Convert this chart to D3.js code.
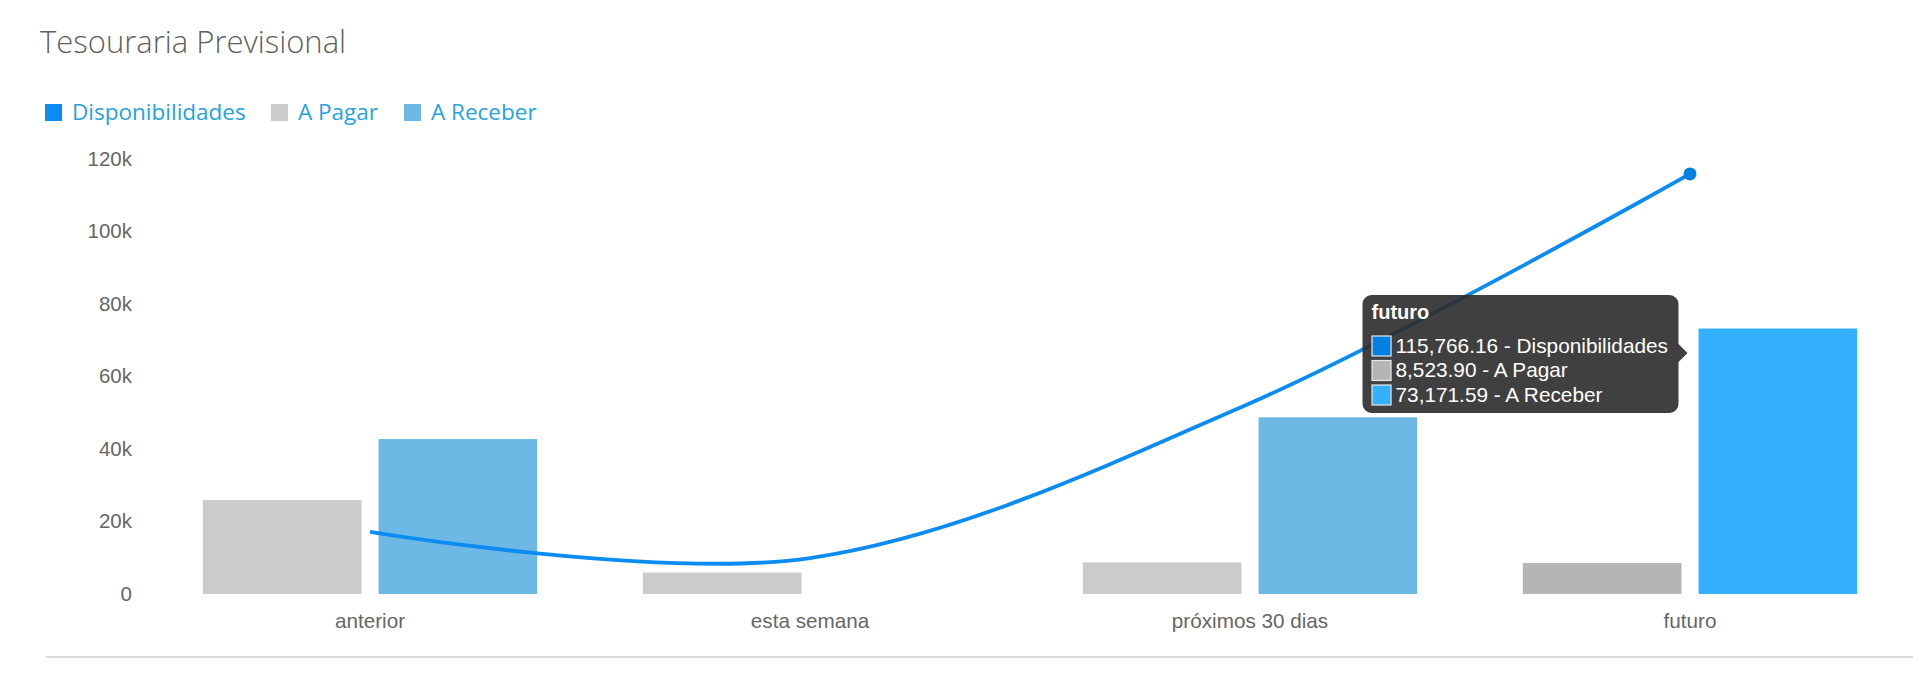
<!DOCTYPE html>
<html>
<head>
<meta charset="utf-8">
<script src="https://cdn.jsdelivr.net/npm/d3@7/dist/d3.min.js"></script>
<style>
  html, body { margin: 0; padding: 0; background: #fff; }
  svg { display: block; }
</style>
</head>
<body>
<svg id="chart" width="1913" height="700"></svg>
<script>
// ---- data ----
const categories = ["anterior", "esta semana", "próximos 30 dias", "futuro"];
const seriesNames = ["Disponibilidades", "A Pagar", "A Receber"];
const disponibilidades = [17100, 9900, 52600, 115766.16];
const aPagar = [25900, 5900, 8700, 8523.90];
const aReceber = [42700, 0, 48700, 73171.59];
const yTicks = [0, 20000, 40000, 60000, 80000, 100000, 120000];
const hoverIndex = 3;

// ---- styles ----
const colors = {
  "Disponibilidades": "#0a8cf2",
  "A Pagar": "#cbcbcb",
  "A Receber": "#6eb8e6"
};
const hoverColors = {
  "Disponibilidades": "#0080e0",
  "A Pagar": "#b5b5b5",
  "A Receber": "#33b1ff"
};
const axisFont = "Arial, 'Liberation Sans', sans-serif";

const svg = d3.select("#chart");
const W = 1913, H = 700;
const plotBottom = 594;

// scales
const x0 = d3.scaleBand().domain(categories).range([150, 1910]).paddingInner(0.24).paddingOuter(0.12);
const x1 = d3.scaleBand().domain(["A Pagar", "A Receber"]).range([0, x0.bandwidth()]).paddingInner(0.097);
const y = d3.scaleLinear().domain([0, 120000]).range([plotBottom, 158.6]);

// title
svg.append("text")
  .attr("x", 40).attr("y", 53)
  .attr("font-family", "'Open Sans', sans-serif")
  .attr("font-weight", 300)
  .attr("font-size", 31)
  .attr("fill", "#5f5f5f")
  .text("Tesouraria Previsional");

// legend
const legendX = [45, 271, 404];
const lg = svg.append("g");
seriesNames.forEach((s, i) => {
  lg.append("rect").attr("x", legendX[i]).attr("y", 104).attr("width", 17).attr("height", 17).attr("fill", colors[s]);
  lg.append("text").attr("x", legendX[i] + 27).attr("y", 120)
    .attr("font-family", "'Open Sans', sans-serif").attr("font-size", 22.5)
    .attr("fill", "#25a3dc").text(s);
});

// y axis
const yAxis = d3.axisLeft(y).tickValues(yTicks).tickSize(0).tickPadding(0)
  .tickFormat(d => d === 0 ? "0" : (d / 1000) + "k");
const yg = svg.append("g").attr("transform", "translate(132,0)").call(yAxis);
yg.select(".domain").remove();
yg.selectAll("text").attr("font-family", axisFont).attr("font-size", 20.5).attr("fill", "#666");

// x axis
const xAxis = d3.axisBottom(x0).tickSize(0).tickPadding(0);
const xg = svg.append("g").attr("transform", "translate(0,613)").call(xAxis);
xg.select(".domain").remove();
xg.selectAll("text").attr("font-family", axisFont).attr("font-size", 20.7).attr("fill", "#666");

// bars
const barData = [];
categories.forEach((c, i) => {
  barData.push({ cat: c, s: "A Pagar", v: aPagar[i], i });
  barData.push({ cat: c, s: "A Receber", v: aReceber[i], i });
});
svg.append("g").selectAll("rect").data(barData.filter(d => d.v > 0)).join("rect")
  .attr("x", d => x0(d.cat) + x1(d.s))
  .attr("width", x1.bandwidth())
  .attr("y", d => y(d.v))
  .attr("height", d => plotBottom - y(d.v))
  .attr("fill", d => d.i === hoverIndex ? hoverColors[d.s] : colors[d.s]);

// line
const cx = c => x0(c) + x0.bandwidth() / 2;
const lineGen = d3.line().x((d, i) => cx(categories[i])).y(d => y(d)).curve(d3.curveCardinal);
svg.append("path").datum(disponibilidades)
  .attr("d", lineGen).attr("fill", "none")
  .attr("stroke", colors["Disponibilidades"]).attr("stroke-width", 3.8);
svg.append("circle")
  .attr("cx", cx(categories[hoverIndex])).attr("cy", y(disponibilidades[hoverIndex]))
  .attr("r", 6.5).attr("fill", hoverColors["Disponibilidades"]);

// bottom rule
svg.append("line").attr("x1", 46).attr("x2", W).attr("y1", 657).attr("y2", 657)
  .attr("stroke", "#dcdcdc").attr("stroke-width", 2);

// tooltip
const tipX = x0(categories[hoverIndex]) + x1("A Receber") - 11;
const tipY = 353;
const bw = 316, bh = 118, r = 9;
const bx = tipX - 9 - bw, by = tipY - 58;
const tt = svg.append("g");
const p = d3.path();
p.moveTo(bx + r, by);
p.lineTo(bx + bw - r, by);
p.arcTo(bx + bw, by, bx + bw, by + r, r);
p.lineTo(bx + bw, tipY - 9);
p.lineTo(tipX, tipY);
p.lineTo(bx + bw, tipY + 9);
p.lineTo(bx + bw, by + bh - r);
p.arcTo(bx + bw, by + bh, bx + bw - r, by + bh, r);
p.lineTo(bx + r, by + bh);
p.arcTo(bx, by + bh, bx, by + bh - r, r);
p.lineTo(bx, by + r);
p.arcTo(bx, by, bx + r, by, r);
p.closePath();
tt.append("path").attr("d", p.toString()).attr("fill", "#2b2b2b").attr("fill-opacity", 0.9);
tt.append("text").attr("x", bx + 9).attr("y", by + 24)
  .attr("font-family", axisFont).attr("font-weight", "bold")
  .attr("font-size", 20).attr("fill", "#fff").text(categories[hoverIndex]);
const vals = [disponibilidades[hoverIndex], aPagar[hoverIndex], aReceber[hoverIndex]];
const fmt = d3.format(",.2f");
seriesNames.forEach((s, i) => {
  const ry = by + 41 + i * 24.5;
  tt.append("rect").attr("x", bx + 9.5).attr("y", ry).attr("width", 19).attr("height", 20)
    .attr("fill", hoverColors[s]).attr("stroke", "#e8e8e8").attr("stroke-width", 1.2);
  tt.append("text").attr("x", bx + 33).attr("y", ry + 16.5)
    .attr("font-family", axisFont)
    .attr("font-size", 20.8).attr("fill", "#fff")
    .text(fmt(vals[i]) + " - " + s);
});
</script>
</body>
</html>
